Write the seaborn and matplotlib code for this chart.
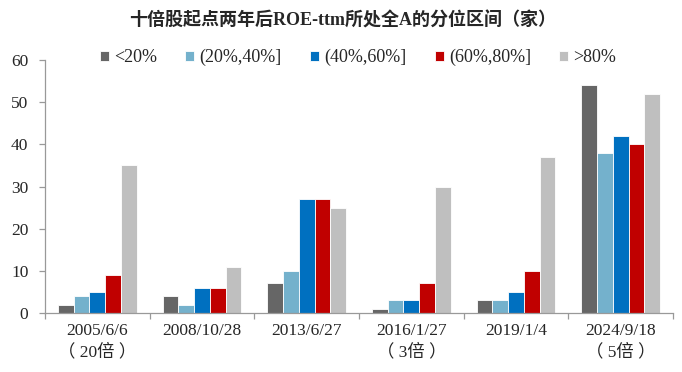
import matplotlib
matplotlib.use("Agg")
import matplotlib.pyplot as plt
import seaborn as sns
import pandas as pd
import numpy as np

categories = ["2005/6/6\n（ 20倍 ）", "2008/10/28", "2013/6/27", "2016/1/27\n（ 3倍 ）", "2019/1/4", "2024/9/18\n（ 5倍 ）"]
series_names = ["<20%", "(20%,40%]", "(40%,60%]", "(60%,80%]", ">80%"]
v_lt20 = [2, 4, 7, 1, 3, 54]
v_20_40 = [4, 2, 10, 3, 3, 38]
v_40_60 = [5, 6, 27, 3, 5, 42]
v_60_80 = [9, 6, 27, 7, 10, 40]
v_gt80 = [35, 11, 25, 30, 37, 52]
colors = ["#666666", "#74B1CC", "#0070C0", "#C00000", "#BFBFBF"]
title = "十倍股起点两年后ROE-ttm所处全A的分位区间（家）"

sns.set_theme(style="white")
plt.rcParams['font.family'] = ['Liberation Serif', 'Noto Sans CJK SC']

rows = []
for name, vals in zip(series_names, [v_lt20, v_20_40, v_40_60, v_60_80, v_gt80]):
    for c, v in zip(categories, vals):
        rows.append({"cat": c, "series": name, "value": v})
df = pd.DataFrame(rows)

fig = plt.figure(figsize=(6.82, 3.72), dpi=100)
ax = fig.add_axes([0.066, 0.1586, 0.9208, 0.6801])
sns.barplot(data=df, x="cat", y="value", hue="series", order=categories,
            hue_order=series_names, palette=colors, saturation=1, width=0.75, gap=0,
            edgecolor="white", linewidth=0.6, ax=ax, legend=True)

ax.set_xlim(-0.5, len(categories) - 0.5)
ax.set_ylim(0, 60)
ax.set_yticks(range(0, 61, 10))
ax.set_xlabel("")
ax.set_ylabel("")
for s in ["top", "right"]:
    ax.spines[s].set_visible(False)
for s in ["left", "bottom"]:
    ax.spines[s].set_color("#999999")
    ax.spines[s].set_linewidth(0.9)

ax.set_xticks(range(len(categories)))
ax.set_xticklabels(categories, fontsize=12.5, linespacing=1.4)
ax.tick_params(axis="x", which="major", length=0, pad=7)
ax.set_xticks(np.arange(-0.5, len(categories), 1.0), minor=True)
ax.tick_params(axis="x", which="minor", length=4, color="#999999", width=0.9, direction="out", bottom=True)
ax.tick_params(axis="y", length=4, color="#999999", width=0.9, direction="out", left=True, labelsize=12.5, pad=8)

handles, labels = ax.get_legend_handles_labels()
ax.legend(handles, labels, loc="center", bbox_to_anchor=(0.525, 0.845), bbox_transform=fig.transFigure,
          ncol=5, frameon=False, fontsize=13, handlelength=0.5, handleheight=0.5,
          handletextpad=0.3, columnspacing=1.55, borderaxespad=0)

fig.text(0.502, 0.945, title, ha="center", va="center", fontsize=13, fontweight="bold")

fig.savefig("out.png", dpi=100)
